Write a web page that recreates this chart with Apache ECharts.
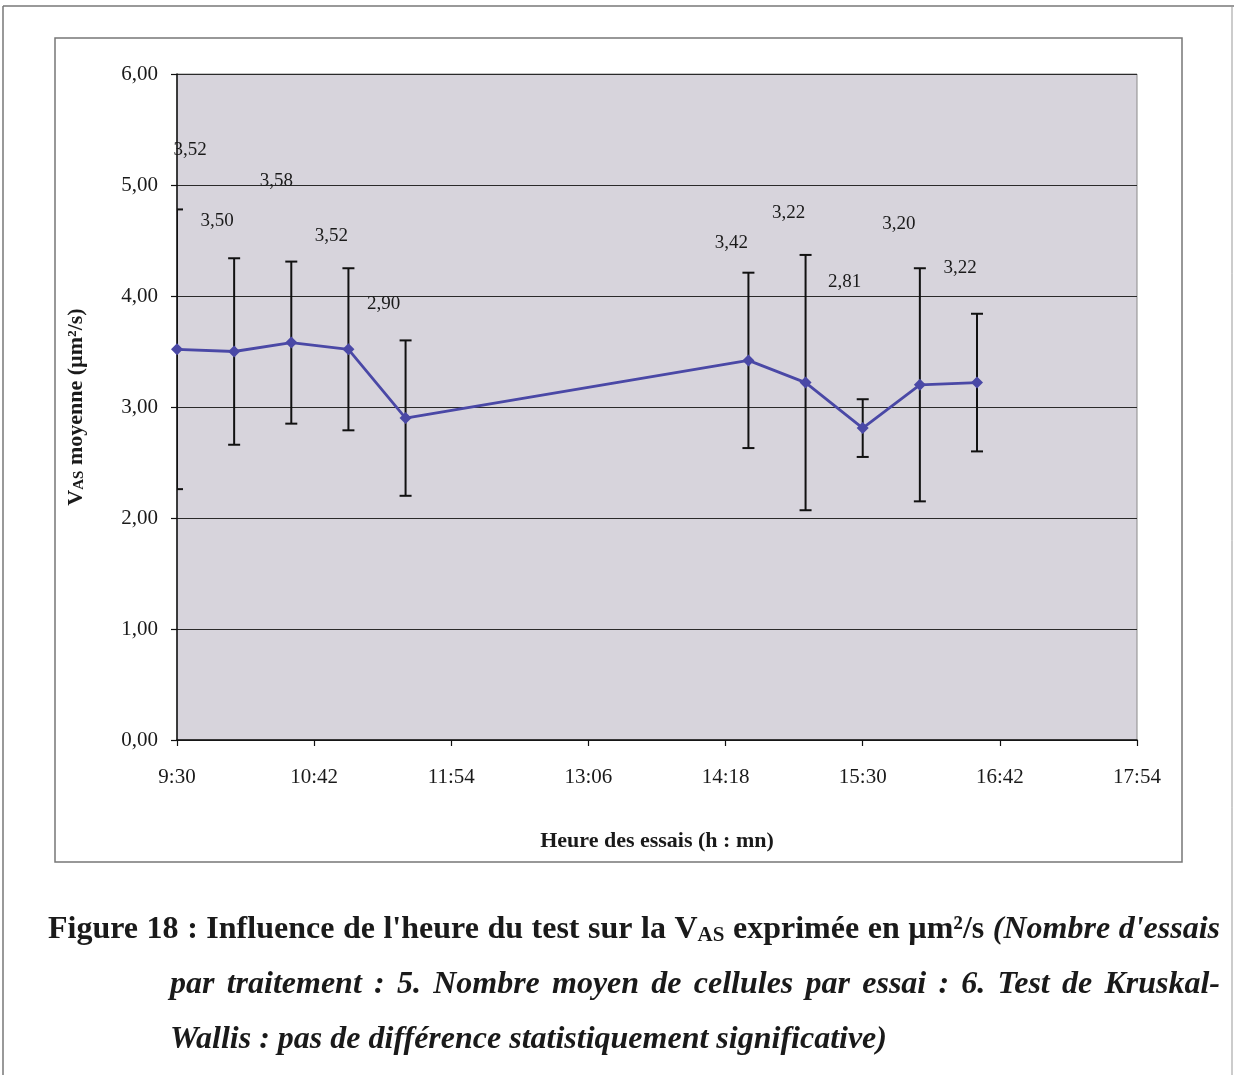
<!DOCTYPE html>
<html>
<head>
<meta charset="utf-8">
<script src="https://cdn.jsdelivr.net/npm/echarts@6/dist/echarts.min.js"></script>
<style>
  html, body { margin: 0; padding: 0; background: #ffffff; }
  #chart { width: 1234px; height: 1075px; }
</style>
</head>
<body>
<div id="chart"></div>
<script>
// Heure de chaque série d'essais (h:mn)
const heures = ['9:30', '10:00', '10:30', '11:00', '11:30', '14:30', '15:00', '15:30', '16:00', '16:30'];
// VAS moyenne (µm²/s)
const vasMoyenne = [3.52, 3.50, 3.58, 3.52, 2.90, 3.42, 3.22, 2.81, 3.20, 3.22];
// Écart-type de la VAS (barres d'erreur)
const ecartType = [1.26, 0.84, 0.73, 0.73, 0.70, 0.79, 1.15, 0.26, 1.05, 0.62];
// Graduations des axes
const xTickLabels = ['9:30', '10:42', '11:54', '13:06', '14:18', '15:30', '16:42', '17:54'];
const yTickLabels = ['0,00', '1,00', '2,00', '3,00', '4,00', '5,00', '6,00'];

// Décalage (px) des étiquettes de valeur par rapport à chaque point
const labelOffsets = [[13, -199], [-17, -130], [-15, -162], [-17, -113], [-22, -114],
                      [-17, -117], [-17, -170], [-18, -146], [-21, -161], [-17, -115]];

const SERIF = '"Liberation Serif", "Times New Roman", serif';
const INK = '#1a1a1a';
const STEP = 72; // minutes entre deux graduations

function toMinutes(h) {
  const [hh, mm] = h.split(':').map(Number);
  return hh * 60 + mm;
}
const origin = toMinutes(xTickLabels[0]);
const xs = heures.map(h => toMinutes(h) - origin);
const fmt = v => v.toFixed(2).replace('.', ',');

const lineData = xs.map((x, i) => ({
  value: [x, vasMoyenne[i]],
  label: { offset: labelOffsets[i] }
}));
const errData = xs.map((x, i) => [x, vasMoyenne[i] - ecartType[i], vasMoyenne[i] + ecartType[i]]);

// ---- Légende de la figure, composée mot à mot et justifiée ----
const CAP = 32;
const fonts = {
  b: `normal bold ${CAP}px ${SERIF}`,
  i: `italic bold ${CAP}px ${SERIF}`,
  sub: `normal bold 21px ${SERIF}`
};
const richStyles = {
  b: { fontFamily: SERIF, fontWeight: 'bold', fontSize: CAP, fill: INK },
  i: { fontFamily: SERIF, fontWeight: 'bold', fontStyle: 'italic', fontSize: CAP, fill: INK },
  sub: { fontFamily: SERIF, fontWeight: 'bold', fontSize: 21, fill: INK, verticalAlign: 'bottom', padding: [9, 0, 0, 0] }
};
const ctx = document.createElement('canvas').getContext('2d');
function measure(text, font) { ctx.font = font; return ctx.measureText(text).width; }

const words = (s, st) => s.split(' ').map(w => [[w, st]]);
const captionLines = [
  { x: 48, right: 1220, y: 930, justify: true,
    words: [].concat(
      words("Figure 18 : Influence de l'heure du test sur la", 'b'),
      [[['V', 'b'], ['AS', 'sub']]],
      words('exprimée en µm²/s', 'b'),
      words("(Nombre d'essais", 'i')) },
  { x: 170, right: 1220, y: 985, justify: true,
    words: words('par traitement : 5. Nombre moyen de cellules par essai : 6. Test de Kruskal-', 'i') },
  { x: 170, right: 1220, y: 1040, justify: false,
    words: words('Wallis : pas de différence statistiquement significative)', 'i') }
];

const captionGraphics = [];
captionLines.forEach(line => {
  const widths = line.words.map(w => w.reduce((s, p) => s + measure(p[0], fonts[p[1]]), 0));
  const total = widths.reduce((a, b) => a + b, 0);
  const gap = line.justify
    ? (line.right - line.x - total) / (line.words.length - 1)
    : measure(' ', fonts.i);
  let cx = line.x;
  line.words.forEach((w, k) => {
    captionGraphics.push({
      type: 'text', silent: true, x: cx, y: line.y,
      style: {
        text: w.map(p => `{${p[1]}|${p[0]}}`).join(''),
        rich: richStyles,
        verticalAlign: 'middle'
      }
    });
    cx += widths[k] + gap;
  });
});

const chart = echarts.init(document.getElementById('chart'), null, { renderer: 'canvas' });

const option = {
  backgroundColor: '#ffffff',
  animation: false,
  grid: {
    left: 177, right: 97, top: 74, bottom: 335,
    show: true, backgroundColor: '#d7d4dc', borderColor: '#8a8a8a', borderWidth: 1
  },
  xAxis: {
    type: 'value',
    min: 0,
    max: STEP * (xTickLabels.length - 1),
    interval: STEP,
    axisLine: { show: true, onZero: false, lineStyle: { color: '#111', width: 1.5 } },
    axisTick: { show: true, length: 6, lineStyle: { color: '#111', width: 1.2 } },
    splitLine: { show: false },
    axisLabel: {
      margin: 27,
      color: INK,
      fontFamily: SERIF,
      fontSize: 21,
      formatter: v => xTickLabels[Math.round(v / STEP)]
    },
    name: 'Heure des essais (h : mn)',
    nameLocation: 'middle',
    nameGap: 90,
    nameTextStyle: { fontFamily: SERIF, fontWeight: 'bold', fontSize: 22, color: INK }
  },
  yAxis: {
    type: 'value',
    min: 0,
    max: 6,
    interval: 1,
    axisLine: { show: true, lineStyle: { color: '#111', width: 1.5 } },
    axisTick: { show: true, length: 6, lineStyle: { color: '#111', width: 1.2 } },
    splitLine: { show: true, lineStyle: { color: '#2a2a2a', width: 1 } },
    axisLabel: {
      margin: 19,
      color: INK,
      fontFamily: SERIF,
      fontSize: 21,
      formatter: v => yTickLabels[Math.round(v)]
    },
    name: 'V{s|AS} moyenne (µm²/s)',
    nameLocation: 'middle',
    nameGap: 90,
    nameRotate: 90,
    nameTextStyle: {
      fontFamily: SERIF, fontWeight: 'bold', fontSize: 22, color: INK,
      rich: { s: { fontFamily: SERIF, fontWeight: 'bold', fontSize: 15, color: INK, verticalAlign: 'bottom', padding: [5, 0, 0, 0] } }
    }
  },
  series: [
    {
      type: 'custom',
      name: 'ecart',
      clip: true,
      z: 2,
      encode: { x: 0, y: [1, 2] },
      data: errData,
      renderItem: function (params, api) {
        const x = api.value(0);
        const lo = api.coord([x, api.value(1)]);
        const hi = api.coord([x, api.value(2)]);
        const w = 6;
        const st = { stroke: '#111', lineWidth: 2 };
        return {
          type: 'group',
          children: [
            { type: 'line', shape: { x1: hi[0], y1: hi[1], x2: lo[0], y2: lo[1] }, style: st },
            { type: 'line', shape: { x1: hi[0] - w, y1: hi[1], x2: hi[0] + w, y2: hi[1] }, style: st },
            { type: 'line', shape: { x1: lo[0] - w, y1: lo[1], x2: lo[0] + w, y2: lo[1] }, style: st }
          ]
        };
      }
    },
    {
      type: 'line',
      name: 'VAS',
      z: 3,
      data: lineData,
      symbol: 'diamond',
      symbolSize: 12,
      lineStyle: { color: '#4a48a6', width: 2.8 },
      itemStyle: { color: '#4a48a6' },
      label: {
        show: true,
        position: 'inside',
        fontFamily: SERIF,
        fontSize: 19,
        color: INK,
        formatter: p => fmt(p.value[1])
      }
    }
  ],
  graphic: [
    // cadre de la page
    { type: 'line', silent: true, shape: { x1: 3, y1: 6, x2: 1234, y2: 6 }, style: { stroke: '#777', lineWidth: 1.5 } },
    { type: 'line', silent: true, shape: { x1: 3, y1: 6, x2: 3, y2: 1075 }, style: { stroke: '#777', lineWidth: 1.5 } },
    { type: 'line', silent: true, shape: { x1: 1232, y1: 6, x2: 1232, y2: 1075 }, style: { stroke: '#999', lineWidth: 1 } },
    // cadre du graphique
    { type: 'rect', silent: true, shape: { x: 55, y: 38, width: 1127, height: 824 }, style: { fill: 'none', stroke: '#777', lineWidth: 1.5 } }
  ].concat(captionGraphics)
};

chart.setOption(option);
</script>
</body>
</html>
